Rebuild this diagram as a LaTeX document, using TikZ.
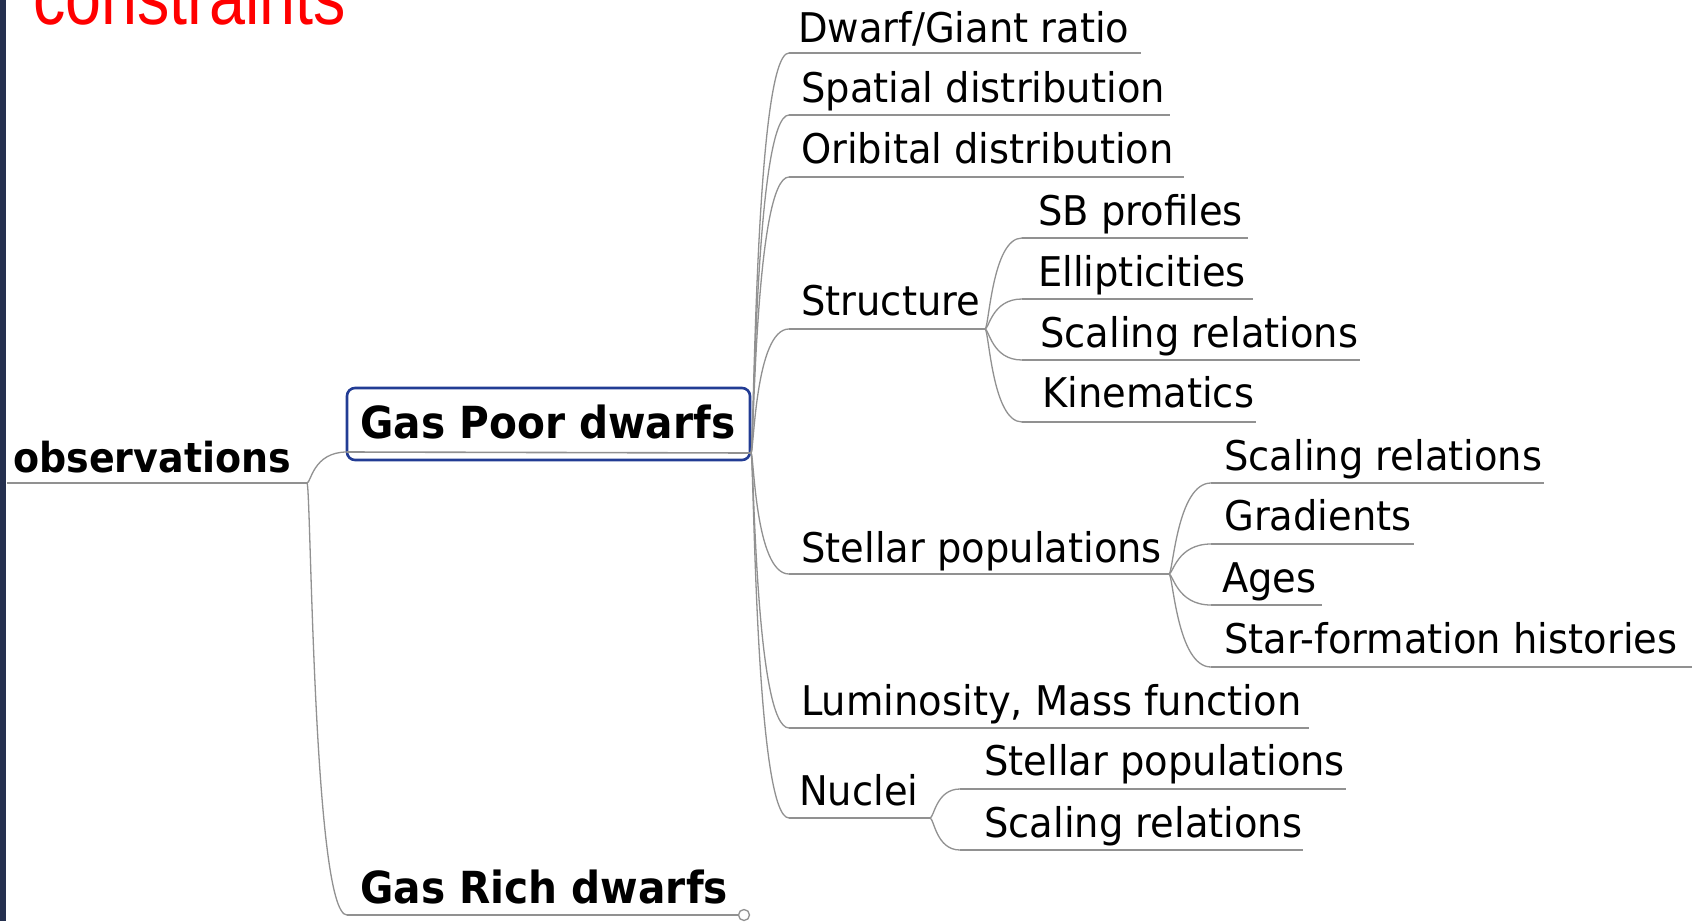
\documentclass[tikz,border=0pt]{standalone}
\usepackage{fontspec}
\newfontfamily\mapfont[FakeStretch=0.92]{DejaVu Sans}
\newfontfamily\leaffont[FakeStretch=0.94]{DejaVu Sans}
\newfontfamily\titlefont[FakeStretch=0.84]{Liberation Sans}
\definecolor{linegray}{HTML}{919191}
\definecolor{boxblue}{HTML}{223C94}
\definecolor{stripcol}{HTML}{25304F}
\definecolor{titlered}{HTML}{FF0000}
\begin{document}
\begin{tikzpicture}[x=1pt,y=-1pt,
  leaf/.style={anchor=base west, inner sep=0pt, font=\leaffont\fontsize{40.9}{48}\selectfont},
  bigbold/.style={anchor=base west, inner sep=0pt, font=\mapfont\bfseries\fontsize{44.2}{50}\selectfont},
  rootbold/.style={anchor=base west, inner sep=0pt, font=\mapfont\bfseries\fontsize{41.3}{48}\selectfont},
  uline/.style={draw=linegray, line width=1.6pt},
  edgeline/.style={draw=linegray, line width=1.3pt},
  focusbox/.style={draw=boxblue, line width=2.6pt, rounded corners=8pt, fill=white}
]
\useasboundingbox (0,0) rectangle (1700,921);
\clip (0,0) rectangle (1700,921);
\fill[white] (0,0) rectangle (1700,921);
\fill[stripcol] (0,0) rectangle (6,921);

% title (cut off at the top edge, as in the reference)
\node[anchor=base west, inner sep=0pt, text=titlered, font=\titlefont\fontsize{77}{80}\selectfont] (title) at (33,24) {constraints};

% root
\node[rootbold] (obs) at (13,472) {observations};
\coordinate (obsL) at (7,483);
\coordinate (obsR) at (307,483);
\draw[uline] (obsL) -- (obsR);

% Gas Poor dwarfs
\draw[focusbox] (347,388) rectangle (750,460);
\coordinate (gpL) at (347,452);
\coordinate (gpR) at (751,453);
\draw[uline] (gpL) -- (gpR);
\node[bigbold] (gp) at (360,438) {Gas Poor dwarfs};

% Gas Rich dwarfs
\node[bigbold] (gr) at (360,903) {Gas Rich dwarfs};
\coordinate (grL) at (347,915);
\coordinate (grR) at (738,915);
\draw[uline] (grL) -- (grR);
\node[circle, draw=linegray, line width=1.3pt, fill=white, inner sep=0pt, minimum size=11pt] (grknob) at (744,915) {};

\draw[edgeline] (obsR) .. controls +(4,0) and +(-34,0) .. (gpL);
\draw[edgeline] (obsR) .. controls +(4,0) and +(-34,0) .. (grL);

% children of Gas Poor dwarfs
\node[leaf] (dg) at (798,42) {Dwarf/Giant ratio};
\node[leaf] (sd) at (801,102) {Spatial distribution};
\node[leaf] (od) at (801,163) {Oribital distribution};
\node[leaf] (st) at (801,315) {Structure};
\node[leaf] (sp) at (801,562) {Stellar populations};
\node[leaf] (lm) at (801,715) {Luminosity, Mass function};
\node[leaf] (nu) at (799,805) {Nuclei};

\coordinate (dgL) at (789,53);  \coordinate (dgR) at (1141,53);
\coordinate (sdL) at (789,115); \coordinate (sdR) at (1170,115);
\coordinate (odL) at (789,177); \coordinate (odR) at (1184,177);
\coordinate (stL) at (789,329); \coordinate (stR) at (985,329);
\coordinate (spL) at (789,574); \coordinate (spR) at (1169,574);
\coordinate (lmL) at (789,728); \coordinate (lmR) at (1309,728);
\coordinate (nuL) at (789,818); \coordinate (nuR) at (930,818);

\foreach \n in {dg,sd,od,st,sp,lm,nu}{
  \draw[uline] (\n L) -- (\n R);
  \draw[edgeline] (gpR) .. controls +(3,0) and +(-34,0) .. (\n L);
}

% Structure children
\node[leaf] (sb) at (1038,225) {SB profiles};
\node[leaf] (el) at (1038,286) {Ellipticities};
\node[leaf] (sra) at (1040,347) {Scaling relations};
\node[leaf] (ki) at (1042,407) {Kinematics};
\coordinate (sbL) at (1022,238);  \coordinate (sbR) at (1248,238);
\coordinate (elL) at (1022,299);  \coordinate (elR) at (1253,299);
\coordinate (sraL) at (1022,360); \coordinate (sraR) at (1360,360);
\coordinate (kiL) at (1022,422);  \coordinate (kiR) at (1256,422);
\foreach \n in {sb,el,sra,ki}{
  \draw[uline] (\n L) -- (\n R);
  \draw[edgeline] (stR) .. controls +(4,0) and +(-30,0) .. (\n L);
}

% Stellar populations children
\node[leaf] (srb) at (1224,470) {Scaling relations};
\node[leaf] (gd) at (1224,530) {Gradients};
\node[leaf] (ag) at (1222,592) {Ages};
\node[leaf] (sfh) at (1224,653) {Star-formation histories};
\coordinate (srbL) at (1211,483); \coordinate (srbR) at (1544,483);
\coordinate (gdL) at (1211,544);  \coordinate (gdR) at (1414,544);
\coordinate (agL) at (1211,605);  \coordinate (agR) at (1322,605);
\coordinate (sfhL) at (1211,667); \coordinate (sfhR) at (1692,667);
\foreach \n in {srb,gd,ag,sfh}{
  \draw[uline] (\n L) -- (\n R);
  \draw[edgeline] (spR) .. controls +(4,0) and +(-34,0) .. (\n L);
}

% Nuclei children
\node[leaf] (nsp) at (984,775) {Stellar populations};
\node[leaf] (nsr) at (984,837) {Scaling relations};
\coordinate (nspL) at (960,789); \coordinate (nspR) at (1346,789);
\coordinate (nsrL) at (960,850); \coordinate (nsrR) at (1303,850);
\foreach \n in {nsp,nsr}{
  \draw[uline] (\n L) -- (\n R);
  \draw[edgeline] (nuR) .. controls +(4,0) and +(-24,0) .. (\n L);
}
\end{tikzpicture}
\end{document}
